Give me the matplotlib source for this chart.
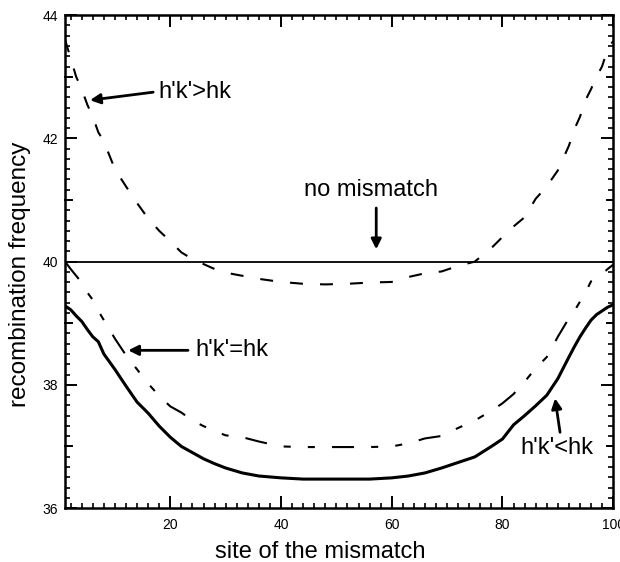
import matplotlib

matplotlib.use("Agg")
import matplotlib.pyplot as plt
from matplotlib.ticker import MultipleLocator

# values
site = [1, 2, 3, 4, 5, 6, 7, 8, 10, 12, 14, 16, 18, 20, 22, 24, 26, 28, 30, 33,
        36, 40, 44, 48, 52, 56, 60, 63, 66, 69, 72, 75, 78, 80, 82, 84, 86, 88,
        90, 92, 93, 94, 95, 96, 97, 98, 99, 100]

# h'k' > hk (dashed)
freq_gt = [43.6, 43.3, 43.0, 42.8, 42.55, 42.35, 42.1, 41.95, 41.5, 41.22,
           40.95, 40.7, 40.5, 40.33, 40.15, 40.04, 39.96, 39.88, 39.82, 39.77,
           39.72, 39.67, 39.64, 39.63, 39.64, 39.66, 39.67, 39.75, 39.81, 39.84,
           39.93, 40.0, 40.22, 40.4, 40.57, 40.72, 41.02, 41.22, 41.48, 41.88,
           42.15, 42.35, 42.62, 42.8, 43.0, 43.17, 43.45, 43.58]

# h'k' = hk (long-short-short dashes)
freq_eq = [40.0, 39.88, 39.77, 39.66, 39.5, 39.38, 39.2, 39.05, 38.75, 38.48,
           38.25, 38.02, 37.82, 37.65, 37.55, 37.42, 37.33, 37.25, 37.18, 37.15,
           37.08, 37.0, 36.99, 36.99, 36.99, 36.99, 37.0, 37.05, 37.13, 37.17,
           37.3, 37.42, 37.58, 37.7, 37.85, 38.05, 38.27, 38.45, 38.78, 39.08,
           39.2, 39.35, 39.5, 39.68, 39.75, 39.8, 39.88, 39.95]

# h'k' < hk (thick solid)
freq_lt = [39.28, 39.22, 39.12, 39.03, 38.9, 38.78, 38.7, 38.5, 38.25, 37.98,
           37.72, 37.54, 37.33, 37.15, 37.0, 36.9, 36.8, 36.72, 36.65, 36.57,
           36.52, 36.49, 36.47, 36.47, 36.47, 36.47, 36.49, 36.52, 36.57, 36.65,
           36.74, 36.83, 37.0, 37.12, 37.35, 37.5, 37.66, 37.83, 38.1, 38.45,
           38.62, 38.78, 38.92, 39.05, 39.14, 39.2, 39.26, 39.3]

no_mismatch = 40.0

x_major = [20, 40, 60, 80, 100]
y_major = [36, 38, 40, 42, 44]
y_mid = [37, 39, 41, 43]

plt.rcParams["font.family"] = ["Liberation Sans", "DejaVu Sans"]

fig = plt.figure(figsize=(6.2, 5.62), dpi=100)
ax = fig.add_axes([0.105, 0.096, 0.884, 0.877])

ax.plot(site, freq_gt, color="black", lw=1.5, dashes=(6.2, 8.2))
ax.axhline(no_mismatch, color="black", lw=1.3)
ax.plot(site, freq_eq, color="black", lw=1.5,
        dashes=(10.6, 8.2, 3.4, 8.2, 3.4, 8.2))
ax.plot(site, freq_lt, color="black", lw=2.2)

ax.set_xlim(1, 100)
ax.set_ylim(36, 44)
ax.set_xticks(x_major)
ax.set_yticks(y_major)
ax.xaxis.set_minor_locator(MultipleLocator(2))
ax.yaxis.set_minor_locator(MultipleLocator(1 / 6))
ax.tick_params(which="both", direction="in", top=True, right=True)
ax.tick_params(which="major", length=8.5, width=1.4, labelsize=10)
ax.tick_params(which="minor", length=3.5, width=1.2)
ax.tick_params(axis="x", pad=7)
ax.tick_params(axis="y", pad=5)
for s in ax.spines.values():
    s.set_linewidth(1.8)

# medium ticks on odd values of y
ytr = ax.get_yaxis_transform()
for y in y_mid:
    ax.plot([0, 0.012], [y, y], transform=ytr, color="black", lw=1.4, clip_on=False)
    ax.plot([0.988, 1], [y, y], transform=ytr, color="black", lw=1.4, clip_on=False)

ax.set_xlabel("site of the mismatch", fontsize=17)
ax.set_ylabel("recombination frequency", fontsize=17.5)
ax.xaxis.set_label_coords(0.465, -0.066)
ax.yaxis.set_label_coords(-0.062, 0.475)

arrow = dict(arrowstyle="-|>", color="black", lw=2, mutation_scale=15,
             shrinkA=0, shrinkB=0)

ax.text(17.8, 42.75, "h'k'>hk", fontsize=17, ha="left", va="center")
ax.annotate("", xy=(5.5, 42.62), xytext=(16.9, 42.75), arrowprops=arrow)

ax.text(56.2, 41.16, "no mismatch", fontsize=17, ha="center", va="center")
ax.annotate("", xy=(57.2, 40.2), xytext=(57.2, 40.87), arrowprops=arrow)

ax.text(24.5, 38.56, "h'k'=hk", fontsize=17, ha="left", va="center")
ax.annotate("", xy=(12.4, 38.56), xytext=(23.2, 38.56), arrowprops=arrow)

ax.text(83.2, 36.97, "h'k'<hk", fontsize=17, ha="left", va="center")
ax.annotate("", xy=(89.5, 37.78), xytext=(90.4, 37.23), arrowprops=arrow)

fig.savefig("out.png", dpi=100)
plt.close(fig)
